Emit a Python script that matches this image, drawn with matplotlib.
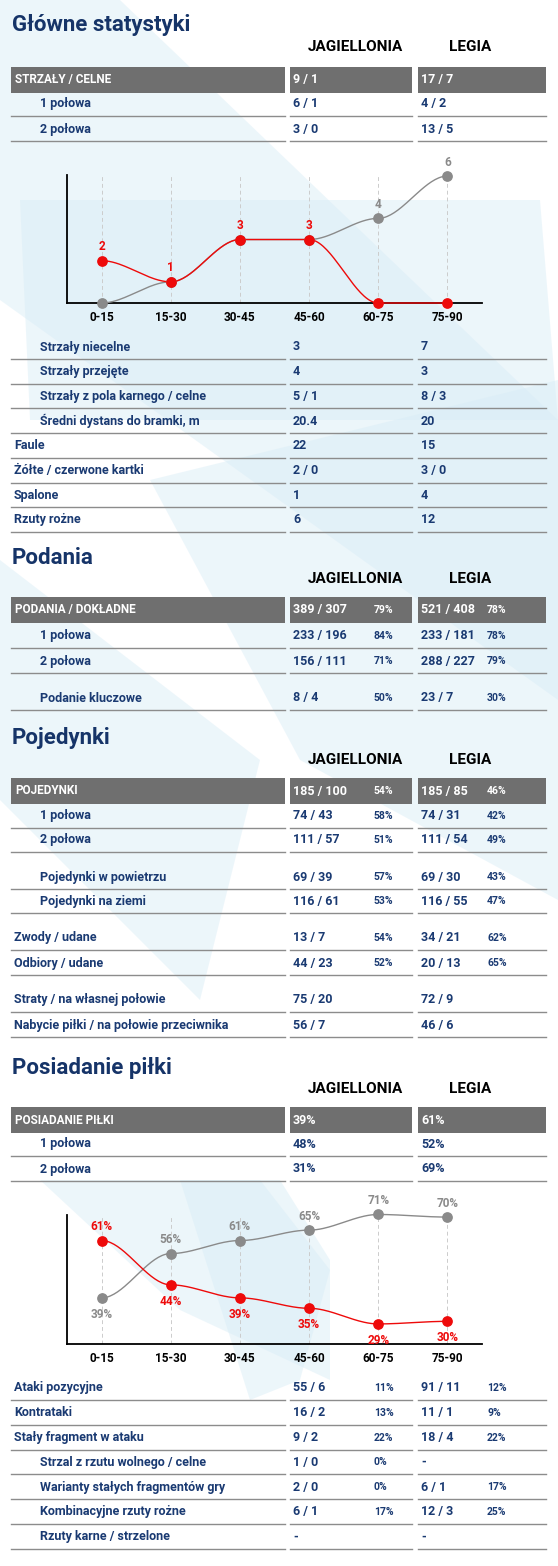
import matplotlib
matplotlib.use("Agg")
import matplotlib.pyplot as plt
import numpy as np
from matplotlib.patches import Polygon, Rectangle

W, H = 558, 1566
NAVY = "#1a3a72"
GRAY_BAR = "#6f6f6f"
RED = "#ee0a0a"
GREY_LINE = "#8a8a8a"
FONT = ["Liberation Sans Narrow", "Roboto", "DejaVu Sans"]

periods = ["0-15", "15-30", "30-45", "45-60", "60-75", "75-90"]
shots_jag = [2, 1, 3, 3, 0, 0]
shots_leg = [0, 1, 3, 3, 4, 6]
poss_jag = [61, 44, 39, 35, 29, 30]
poss_leg = [39, 56, 61, 65, 71, 70]

teams = ["JAGIELLONIA", "LEGIA"]

main_head = ("STRZAŁY / CELNE", "9 / 1", "17 / 7")
main_halves = [("1 połowa", "6 / 1", "4 / 2"), ("2 połowa", "3 / 0", "13 / 5")]
main_rows = [("Strzały niecelne", "3", "7", True),
             ("Strzały przejęte", "4", "3", True),
             ("Strzały z pola karnego / celne", "5 / 1", "8 / 3", True),
             ("Średni dystans do bramki, m", "20.4", "20", True),
             ("Faule", "22", "15", False),
             ("Żółte / czerwone kartki", "2 / 0", "3 / 0", False),
             ("Spalone", "1", "4", False),
             ("Rzuty rożne", "6", "12", False)]

pass_head = ("PODANIA / DOKŁADNE", "389 / 307", "79%", "521 / 408", "78%")
pass_rows = [("1 połowa", "233 / 196", "84%", "233 / 181", "78%", True),
             ("2 połowa", "156 / 111", "71%", "288 / 227", "79%", True),
             ("Podanie kluczowe", "8 / 4", "50%", "23 / 7", "30%", True)]

duel_head = ("POJEDYNKI", "185 / 100", "54%", "185 / 85", "46%")
duel_rows = [("1 połowa", "74 / 43", "58%", "74 / 31", "42%", True),
             ("2 połowa", "111 / 57", "51%", "111 / 54", "49%", True),
             ("Pojedynki w powietrzu", "69 / 39", "57%", "69 / 30", "43%", True),
             ("Pojedynki na ziemi", "116 / 61", "53%", "116 / 55", "47%", True),
             ("Zwody / udane", "13 / 7", "54%", "34 / 21", "62%", False),
             ("Odbiory / udane", "44 / 23", "52%", "20 / 13", "65%", False),
             ("Straty / na własnej połowie", "75 / 20", "", "72 / 9", "", False),
             ("Nabycie piłki / na połowie przeciwnika", "56 / 7", "", "46 / 6", "", False)]

poss_head = ("POSIADANIE PIŁKI", "39%", "", "61%", "")
poss_halves = [("1 połowa", "48%", "", "52%", "", True), ("2 połowa", "31%", "", "69%", "", True)]
attack_rows = [("Ataki pozycyjne", "55 / 6", "11%", "91 / 11", "12%", False),
               ("Kontrataki", "16 / 2", "13%", "11 / 1", "9%", False),
               ("Stały fragment w ataku", "9 / 2", "22%", "18 / 4", "22%", False),
               ("Strzal z rzutu wolnego / celne", "1 / 0", "0%", "-", "", True),
               ("Warianty stałych fragmentów gry", "2 / 0", "0%", "6 / 1", "17%", True),
               ("Kombinacyjne rzuty rożne", "6 / 1", "17%", "12 / 3", "25%", True),
               ("Rzuty karne / strzelone", "-", "", "-", "", True)]

fig = plt.figure(figsize=(W / 100, H / 100), dpi=100)
ax = fig.add_axes([0, 0, 1, 1])
ax.set_xlim(0, W)
ax.set_ylim(H, 0)
ax.axis("off")

bg = [
    [(0, 0), (120, 0), (558, 420), (558, 700), (0, 300)],
    [(20, 200), (540, 200), (558, 420), (30, 420)],
    [(150, 480), (558, 380), (558, 900), (300, 760)],
    [(0, 560), (0, 800), (200, 1000), (260, 760)],
    [(40, 1180), (280, 1180), (330, 1260), (330, 1380), (180, 1310)],
    [(180, 1180), (260, 1180), (330, 1270), (300, 1380), (250, 1400)],
]
for p in bg:
    ax.add_patch(Polygon(p, closed=True, color="#d7ecf6", alpha=0.45, lw=0, zorder=0))

def T(x, y, s, size=10, color=NAVY, ha="left", weight="bold"):
    ax.text(x, y, s, fontsize=size, color=color, ha=ha, va="center",
            family=FONT, weight=weight, zorder=5)

def title(y, s):
    T(12, y, s, size=16, color="#163468")

def headers(y):
    T(355, y, teams[0], size=11, color="black", ha="center")
    T(470, y, teams[1], size=11, color="black", ha="center")

COLS = [(11, 285), (290, 412), (418, 546)]

def gray_bar(y, texts):
    for (a, b) in COLS:
        ax.add_patch(Rectangle((a, y - 13), b - a, 26, color=GRAY_BAR, lw=0, zorder=2))
    T(15, y, texts[0], size=8.5, color="white")
    T(293, y, texts[1], size=9, color="white")
    if len(texts) == 3:
        T(421, y, texts[2], size=9, color="white")
    else:
        T(374, y, texts[2], size=7.5, color="white")
        T(421, y, texts[3], size=9, color="white")
        T(487, y, texts[4], size=7.5, color="white")

def row(y, label, v1, p1, v2, p2, indent):
    T(40 if indent else 14, y, label, size=9)
    T(293, y, v1, size=9)
    T(421, y, v2, size=9)
    if p1:
        T(374, y, p1, size=7.5)
    if p2:
        T(487, y, p2, size=7.5)
    for (a, b) in COLS:
        ax.plot([a, b], [y + 12, y + 12], color="#8c8c8c", lw=1, zorder=2)

def smooth(vals):
    xs, ys = [], []
    t = np.linspace(0, 1, 40)
    s = 3 * t ** 2 - 2 * t ** 3
    for i in range(len(vals) - 1):
        xs.append(i + t)
        ys.append(vals[i] + (vals[i + 1] - vals[i]) * s)
    return np.concatenate(xs), np.concatenate(ys)

def chart(top, bottom, ymin, ymax, jag, leg, fmt, jag_pos, leg_pos):
    cax = fig.add_axes([67 / W, 1 - bottom / H, (482 - 67) / W, (bottom - top) / H])
    cax.patch.set_alpha(0)
    x = np.arange(len(periods))
    cax.set_xlim(-0.5, 5.5)
    cax.set_ylim(ymin, ymax)
    for xi in x:
        cax.axvline(xi, color="#cccccc", lw=0.7, ls=(0, (4, 3)), zorder=1)
    for vals, col, pos in [(leg, GREY_LINE, leg_pos), (jag, RED, jag_pos)]:
        sx, sy = smooth(vals)
        cax.plot(sx, sy, color=col, lw=1, zorder=3, clip_on=False)
        cax.scatter(x, vals, s=45, color=col, zorder=4, clip_on=False)
        for xi, v, p in zip(x, vals, pos):
            if p == 0:
                continue
            off = 10 if p > 0 else -12
            cax.annotate(fmt(v), (xi, v), xytext=(0, off), textcoords="offset points",
                         ha="center", va="center", color=col, fontsize=8.5,
                         family=FONT, weight="bold", zorder=5, annotation_clip=False)
    cax.spines[["top", "right"]].set_visible(False)
    cax.spines[["left", "bottom"]].set_linewidth(1.3)
    cax.set_yticks([])
    cax.set_xticks(x)
    cax.set_xticklabels(periods, family=FONT, weight="bold", fontsize=8.5, color="black")
    cax.tick_params(axis="x", length=0, pad=6)

title(25, "Główne statystyki")
headers(47)
gray_bar(80, main_head)
for i, (l, a, b) in enumerate(main_halves):
    row(104 + 25 * i, l, a, "", b, "", True)
chart(175, 303, 0, 6.05, shots_jag, shots_leg, lambda v: f"{v}",
      [1, 1, 1, 1, 0, 0], [0, 0, 0, 0, 1, 1])
for i, (l, a, b, ind) in enumerate(main_rows):
    row(347 + 24.7 * i, l, a, "", b, "", ind)

title(558, "Podania")
headers(579)
gray_bar(610, pass_head)
for y, r in zip([636, 661, 698], pass_rows):
    row(y, *r)

title(738, "Pojedynki")
headers(760)
gray_bar(791, duel_head)
for y, r in zip([816, 840, 877, 901, 938, 963, 1000, 1025], duel_rows):
    row(y, *r)

title(1068, "Posiadanie piłki")
headers(1089)
gray_bar(1120, poss_head)
for y, r in zip([1144, 1169], poss_halves):
    row(y, *r)
chart(1215, 1344, 21.3, 70.8, poss_jag, poss_leg, lambda v: f"{v}%",
      [1, -1, -1, -1, -1, -1], [-1, 1, 1, 1, 1, 1])
for i, r in enumerate(attack_rows):
    row(1388 + 24.8 * i, *r)

fig.savefig("out.png", dpi=100)
